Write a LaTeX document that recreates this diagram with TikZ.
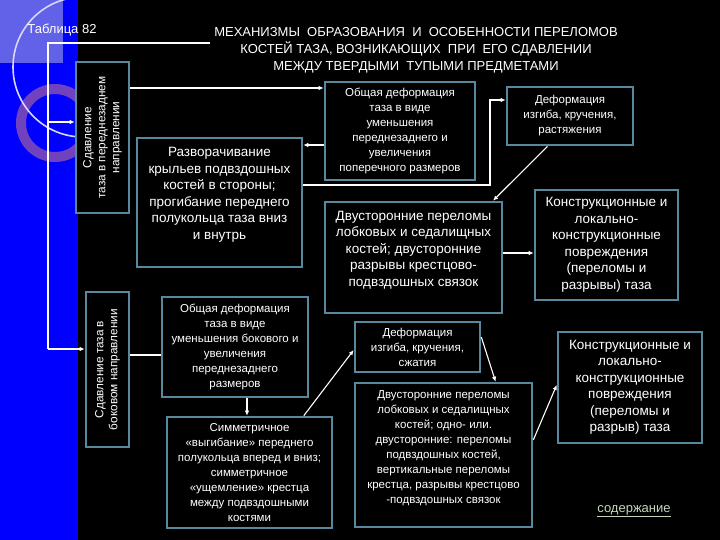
\documentclass[tikz,border=0pt]{standalone}
\usepackage{fontspec}
\setmainfont{Liberation Sans}
\usetikzlibrary{arrows.meta,calc}
\definecolor{boxc}{RGB}{88,136,158}
\definecolor{bandc}{RGB}{0,0,255}
\definecolor{patchc}{RGB}{98,98,232}
\definecolor{ringc}{RGB}{132,78,178}
\definecolor{arcc}{RGB}{215,215,250}
\definecolor{linkc}{RGB}{196,214,186}
\tikzset{
  bx/.style={draw=boxc, line width=2.6pt, fill=black, inner sep=0pt},
  big/.style={text=white, align=center, font=\fontsize{13.5}{16.5}\selectfont},
  small/.style={text=white, align=center, font=\fontsize{11.5}{15}\selectfont},
  vert/.style={text=white, align=center, font=\fontsize{11.8}{14}\selectfont, rotate=90},
  arr/.style={draw=white, line width=1.1pt, -{Latex[length=5pt,width=4.5pt]}},
  ln/.style={draw=white, line width=1.1pt},
}
\begin{document}
\begin{tikzpicture}[x=1pt,y=-1pt]
\useasboundingbox (0,0) rectangle (720,540);
\fill[black] (0,0) rectangle (720,540);
% left decorative band
\begin{scope}
  \clip (0,0) rectangle (78,540);
  \fill[bandc] (0,0) rectangle (78,540);
  \fill[patchc] (0,0) rectangle (63,63);
  \draw[ringc, line width=10pt, opacity=0.85] (55,123) circle (34);
  \draw[arcc, line width=1.6pt] (83,67) circle (70);
\end{scope}
% titles
\node[text=white, font=\fontsize{13}{15}\selectfont] (tab) at (62,30) {Таблица 82};
\node[text=white, align=center, font=\fontsize{13}{17}\selectfont] (T) at (416,50)
  {МЕХАНИЗМЫ\ \ ОБРАЗОВАНИЯ\ \ И\ \ ОСОБЕННОСТИ ПЕРЕЛОМОВ\\
   КОСТЕЙ ТАЗА, ВОЗНИКАЮЩИХ\ \ ПРИ\ \ ЕГО СДАВЛЕНИИ\\
   МЕЖДУ ТВЕРДЫМИ\ \ ТУПЫМИ ПРЕДМЕТАМИ};
% vertical boxes
\node[bx, vert, minimum width=151pt, minimum height=53pt] (A) at (102.5,137.5)
  {Сдавление\\таза в переднезаднем\\направлении};
\node[bx, vert, minimum width=155pt, minimum height=43pt] (B) at (107.5,369.5)
  {Сдавление таза в\\боковом направлении};
% upper row
\node[bx, minimum width=165pt, minimum height=129pt] (C) at (219.5,202.5) {};
\node[big] (Ct) at (219.5,195) {Разворачивание\\крыльев подвздошных\\костей в стороны;\\прогибание переднего\\полукольца таза вниз\\и внутрь};
\node[bx, small, minimum width=150pt, minimum height=98pt] (D) at (400,131)
  {Общая деформация\\таза в виде\\уменьшения\\переднезаднего и\\увеличения\\поперечного размеров};
\node[bx, minimum width=177pt, minimum height=111pt] (E) at (413.5,257.5) {};
\node[big] (Et) at (413.5,250) {Двусторонние переломы\\лобковых и седалищных\\костей; двусторонние\\разрывы крестцово-\\подвздошных связок};
\node[bx, small, minimum width=126pt, minimum height=58pt] (F) at (570,116)
  {Деформация\\изгиба, кручения,\\растяжения};
\node[bx, big, minimum width=143pt, minimum height=110pt] (G) at (606.5,245)
  {Конструкционные и\\локально-\\конструкционные\\повреждения\\(переломы и\\разрывы) таза};
% lower row
\node[bx, small, minimum width=146pt, minimum height=100pt] (H) at (235,347)
  {Общая деформация\\таза в виде\\уменьшения бокового и\\увеличения\\переднезаднего\\размеров};
\node[bx, small, minimum width=165pt, minimum height=111pt] (I) at (249.5,472.5)
  {Симметричное\\«выгибание» переднего\\полукольца вперед и вниз;\\симметричное\\«ущемление» крестца\\между подвздошными\\костями};
\node[bx, small, minimum width=125pt, minimum height=50pt] (J) at (417.5,347)
  {Деформация\\изгиба, кручения,\\сжатия};
\node[bx, minimum width=177pt, minimum height=144pt] (K) at (443.5,455) {};
\node[small] (Kt) at (443.5,448) {Двусторонние переломы\\лобковых и седалищных\\костей; одно- или.\\двусторонние: переломы\\подвздошных костей,\\вертикальные переломы\\крестца, разрывы крестцово\\-подвздошных связок};
\node[bx, big, minimum width=144pt, minimum height=111pt] (L) at (630,387.5)
  {Конструкционные и\\локально-\\конструкционные\\повреждения\\(переломы и\\разрыв) таза};
\node[text=linkc, font=\fontsize{13}{15}\selectfont] (link) at (634,511) {\underline{содержание}};
% route coordinates
\coordinate (tl) at (210,43);
\coordinate (b1) at (48,43);
\coordinate (b2) at (48,349);
\coordinate (pA) at (48,122);
\coordinate (ad) at (200,88);
\coordinate (dc) at (310,145);
\coordinate (cf1) at (490,185);
\coordinate (cf2) at (490,100);
\coordinate (eg) at (520,253);
\coordinate (bh) at (140,355);
\coordinate (hi) at (247,407);
% connectors
\draw[ln] (tl) -- (b1) -- (b2);
\draw[arr] (pA) -- (pA -| A.north);
\draw[arr] (b2) -- (b2 -| B.north);
\draw[arr] (ad -| A.south) -- (ad -| D.west);
\draw[arr] (dc -| D.west) -- (dc -| C.east);
\draw[arr] (cf1 -| C.east) -- (cf1) -- (cf2) -- (cf2 -| F.west);
\draw[arr] ($(F.south west)!0.325!(F.south east)$) -- ($(E.north west)!0.943!(E.north east)$);
\draw[arr] (eg -| E.east) -- (eg -| G.west);
\draw[ln] (bh -| B.south) -- (bh -| H.west);
\draw[arr] (hi |- H.south) -- (hi |- I.north);
\draw[arr] ($(I.north west)!0.824!(I.north east)$) -- ([yshift=-3pt]J.west);
\draw[arr] ([yshift=10pt]J.east) -- ($(K.north west)!0.79!(K.north east)$);
\draw[arr] ([yshift=15pt]K.east) -- ([yshift=2.5pt]L.west);
\end{tikzpicture}
\end{document}
